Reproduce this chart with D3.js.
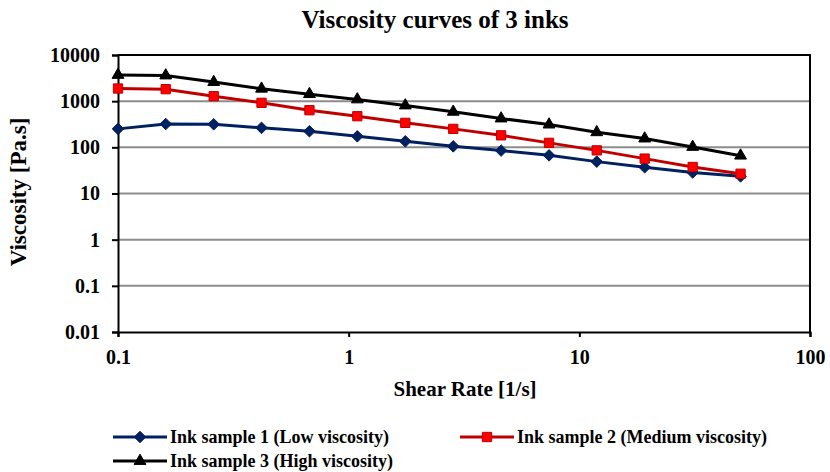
<!DOCTYPE html>
<html>
<head>
<meta charset="utf-8">
<script src="https://cdn.jsdelivr.net/npm/d3@7"></script>
<style>
  html, body { margin: 0; padding: 0; background: #fff; }
  svg { display: block; }
  text { font-family: "Liberation Serif", "Times New Roman", serif; font-weight: bold; fill: #000; }
</style>
</head>
<body>
<svg id="chart" width="830" height="472"></svg>
<script>
// Shear rates (1/s)
const shearRate = [0.1, 0.161, 0.26, 0.419, 0.676, 1.09, 1.76, 2.84, 4.58, 7.39, 11.9, 19.2, 31.0, 50.0];

// Viscosity (Pa.s) per ink
const inkLow    = [251, 320, 315, 264, 223, 173, 135, 105, 85, 67, 49, 37, 28.5, 23.5];
const inkMedium = [1880, 1820, 1280, 920, 637, 472, 339, 251, 182, 125, 86, 57, 37.5, 26.8];
const inkHigh   = [3700, 3600, 2590, 1860, 1420, 1090, 807, 588, 421, 311, 212, 155, 102, 66];

const seriesNames = [
  "Ink sample 1 (Low viscosity)",
  "Ink sample 2 (Medium viscosity)",
  "Ink sample 3 (High viscosity)"
];

const xTicks = [0.1, 1, 10, 100];
const xTickLabels = ["0.1", "1", "10", "100"];
const yTicks = [0.01, 0.1, 1, 10, 100, 1000, 10000];
const yTickLabels = ["0.01", "0.1", "1", "10", "100", "1000", "10000"];

const svg = d3.select("#chart");

const x = d3.scaleLog().domain([0.1, 100]).range([118, 810]);
const y = d3.scaleLog().domain([0.01, 10000]).range([332, 55]);

// title
svg.append("text")
  .attr("x", 435).attr("y", 28)
  .attr("text-anchor", "middle")
  .style("font-size", "25px")
  .text("Viscosity curves of 3 inks");

// horizontal gridlines
svg.append("g")
  .selectAll("line")
  .data(yTicks.slice(1, -1))
  .join("line")
  .attr("x1", x(0.1)).attr("x2", x(100))
  .attr("y1", d => y(d)).attr("y2", d => y(d))
  .attr("stroke", "#8c8c8c")
  .attr("stroke-width", 2);

// plot frame (top and right)
svg.append("path")
  .attr("d", `M${x(0.1)},${y(10000)}H${x(100)}V${y(0.01)}`)
  .attr("fill", "none")
  .attr("stroke", "#000")
  .attr("stroke-width", 2);

// y axis
const yAxis = d3.axisLeft(y)
  .tickValues(yTicks)
  .tickFormat((d, i) => yTickLabels[i])
  .tickSize(6)
  .tickPadding(12);
const gy = svg.append("g")
  .attr("transform", `translate(${x(0.1)},0)`)
  .call(yAxis);

// x axis
const xAxis = d3.axisBottom(x)
  .tickValues(xTicks)
  .tickFormat((d, i) => xTickLabels[i])
  .tickSize(5)
  .tickPadding(13);
const gx = svg.append("g")
  .attr("transform", `translate(0,${y(0.01)})`)
  .call(xAxis);

[gx, gy].forEach(g => {
  g.select(".domain").attr("stroke", "#000").attr("stroke-width", 2);
  g.selectAll(".tick line").attr("stroke", "#000").attr("stroke-width", 2);
  g.selectAll(".tick text")
    .attr("fill", "#000")
    .style("font-family", "'Liberation Serif', 'Times New Roman', serif")
    .style("font-weight", "bold")
    .style("font-size", "20px");
});

// axis titles
svg.append("text")
  .attr("x", 465).attr("y", 396)
  .attr("text-anchor", "middle")
  .style("font-size", "21px")
  .text("Shear Rate [1/s]");

svg.append("text")
  .attr("transform", "translate(26,192) rotate(-90)")
  .attr("text-anchor", "middle")
  .style("font-size", "23px")
  .text("Viscosity [Pa.s]");

// series
const series = [
  { name: seriesNames[0], values: inkLow,    color: "#002060", fill: "#002060", marker: d3.symbolDiamond2,  size: 85 },
  { name: seriesNames[1], values: inkMedium, color: "#c00000", fill: "#ff0000", marker: d3.symbolSquare2,   size: 110 },
  { name: seriesNames[2], values: inkHigh,   color: "#000000", fill: "#000000", marker: d3.symbolTriangle2, size: 100 }
];

const line = d3.line()
  .x(d => x(d[0]))
  .y(d => y(d[1]));

series.forEach(s => {
  const pts = shearRate.map((r, i) => [r, s.values[i]]);
  const g = svg.append("g");
  g.append("path")
    .datum(pts)
    .attr("d", line)
    .attr("fill", "none")
    .attr("stroke", s.color)
    .attr("stroke-width", 3);
  g.selectAll("path.m")
    .data(pts)
    .join("path")
    .attr("class", "m")
    .attr("transform", d => `translate(${x(d[0])},${y(d[1])})`)
    .attr("d", d3.symbol().type(s.marker).size(s.size))
    .attr("fill", s.fill)
    .attr("stroke", s.color)
    .attr("stroke-width", 1);
});

// legend
const legendPos = [[113, 437], [460, 437], [113, 461]];
series.forEach((s, i) => {
  const [lx, ly] = legendPos[i];
  const g = svg.append("g").attr("transform", `translate(${lx},${ly})`);
  g.append("line")
    .attr("x1", 0).attr("x2", 54)
    .attr("y1", 0).attr("y2", 0)
    .attr("stroke", s.color)
    .attr("stroke-width", 3);
  g.append("path")
    .attr("transform", "translate(27,0)")
    .attr("d", d3.symbol().type(s.marker).size(s.size))
    .attr("fill", s.fill)
    .attr("stroke", s.color)
    .attr("stroke-width", 1);
  g.append("text")
    .attr("x", 57).attr("y", 6)
    .style("font-size", "18px")
    .text(s.name);
});
</script>
</body>
</html>
